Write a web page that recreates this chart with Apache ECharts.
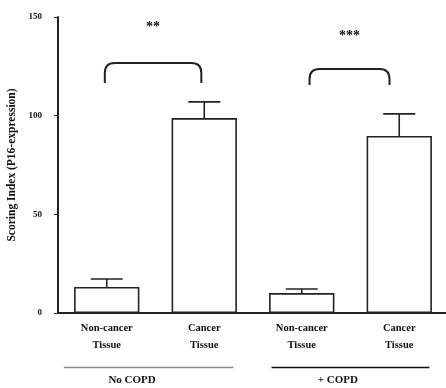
<!DOCTYPE html>
<html><head><meta charset="utf-8">
<script src="https://cdn.jsdelivr.net/npm/echarts@6/dist/echarts.min.js"></script>
<style>html,body{margin:0;padding:0;background:#fff}#c{width:446px;height:388px}</style>
</head><body><div id="c"></div>
<script>
const categories = ['Non-cancer\nTissue', 'Cancer\nTissue', 'Non-cancer\nTissue', 'Cancer\nTissue'];
const means = [13.2, 98.8, 10.1, 89.7];
const errors = [4.0, 8.2, 2.1, 11.2];
const yTicks = [0, 50, 100, 150];
// brackets: [left category pos, right category pos, top value, end value, star value, label]
const brackets = [
  [-0.02, 0.97, 126.7, 116.6, 144.5, '**'],
  [2.08, 2.9, 123.7, 115.6, 140, '***']
];
const groups = [
  {name: 'No COPD', from: -0.44, to: 1.3, labelAt: 0.26, color: '#8a8a8a'},
  {name: '+ COPD', from: 1.69, to: 3.31, labelAt: 2.37, color: '#111'}
];
const FONT = 'Liberation Serif';

const chart = echarts.init(document.getElementById('c'));

function catX(api, pos) {
  const x0 = api.coord([0, 0])[0];
  const bw = api.size([1, 0])[0];
  return x0 + pos * bw;
}

const option = {
  animation: false,
  grid: {left: 58, top: 17, width: 390, bottom: 75, containLabel: false, outerBoundsMode: 'none'},
  xAxis: {
    type: 'category',
    data: categories,
    axisLine: {lineStyle: {color: '#222', width: 2}},
    axisTick: {alignWithLabel: true, length: 3, lineStyle: {color: '#222', width: 1}},
    axisLabel: {color: '#111', fontFamily: FONT, fontWeight: 'bold', fontSize: 10.5, lineHeight: 17, margin: 7}
  },
  yAxis: {
    type: 'value',
    min: 0, max: 150, interval: 50,
    name: 'Scoring Index (P16-expression)',
    nameLocation: 'middle',
    nameGap: 36,
    nameRotate: 90,
    nameTextStyle: {color: '#111', fontFamily: FONT, fontWeight: 'bold', fontSize: 11.5},
    splitLine: {show: false},
    axisLine: {show: true, lineStyle: {color: '#222', width: 2}},
    axisTick: {show: true, length: 4, lineStyle: {color: '#222', width: 1}},
    axisLabel: {color: '#111', fontFamily: FONT, fontWeight: 'bold', fontSize: 9, margin: 16,
      formatter: v => yTicks.includes(v) ? String(v) : ''}
  },
  series: [
    {
      type: 'bar',
      data: means,
      barWidth: '67%',
      itemStyle: {color: '#fff', borderColor: '#222', borderWidth: 1.6},
      z: 2
    },
    {
      type: 'custom',
      data: means.map((m, i) => [i, m, m + errors[i]]),
      renderItem: function (params, api) {
        const i = api.value(0);
        const p0 = api.coord([i, api.value(1)]);
        const p1 = api.coord([i, api.value(2)]);
        const hw = 16;
        return {
          type: 'group',
          children: [
            {type: 'line', shape: {x1: p0[0], y1: p0[1], x2: p1[0], y2: p1[1]}, style: {stroke: '#222', lineWidth: 1.6}},
            {type: 'line', shape: {x1: p1[0] - hw, y1: p1[1], x2: p1[0] + hw, y2: p1[1]}, style: {stroke: '#222', lineWidth: 1.6}}
          ]
        };
      },
      z: 3
    },
    {
      type: 'custom',
      data: brackets.map(b => [b[0], b[1], b[2], b[3], b[4]]),
      renderItem: function (params, api) {
        const b = brackets[params.dataIndex];
        const xl = catX(api, b[0]);
        const xr = catX(api, b[1]);
        const yt = api.coord([0, b[2]])[1];
        const yb = api.coord([0, b[3]])[1];
        const ys = api.coord([0, b[4]])[1];
        const r = 10;
        const path = 'M' + xl + ' ' + yb + ' L' + xl + ' ' + (yt + r) +
          ' Q' + xl + ' ' + yt + ' ' + (xl + r) + ' ' + yt +
          ' L' + (xr - r) + ' ' + yt +
          ' Q' + xr + ' ' + yt + ' ' + xr + ' ' + (yt + r) +
          ' L' + xr + ' ' + yb;
        return {
          type: 'group',
          children: [
            {type: 'path', shape: {pathData: path}, style: {stroke: '#222', lineWidth: 2, fill: null}},
            {type: 'text', x: (xl + xr) / 2, y: ys,
              style: {text: b[5], fill: '#111', font: 'bold 14px "' + FONT + '"', align: 'center', verticalAlign: 'middle'}}
          ]
        };
      },
      z: 4
    }
  ]
};
chart.setOption(option);

const g = [];
groups.forEach(gr => {
  const x0 = chart.convertToPixel({xAxisIndex: 0}, 0);
  const x1 = chart.convertToPixel({xAxisIndex: 0}, 1);
  const bw = x1 - x0;
  const a = x0 + gr.from * bw;
  const b = x0 + gr.to * bw;
  g.push({type: 'line', shape: {x1: a, y1: 367.5, x2: b, y2: 367.5}, style: {stroke: gr.color, lineWidth: 1.6}});
  g.push({type: 'text', x: x0 + gr.labelAt * bw, y: 380,
    style: {text: gr.name, fill: '#111', font: 'bold 11px "' + FONT + '"', align: 'center', verticalAlign: 'middle'}});
});
chart.setOption({graphic: g});
</script>
</body></html>
